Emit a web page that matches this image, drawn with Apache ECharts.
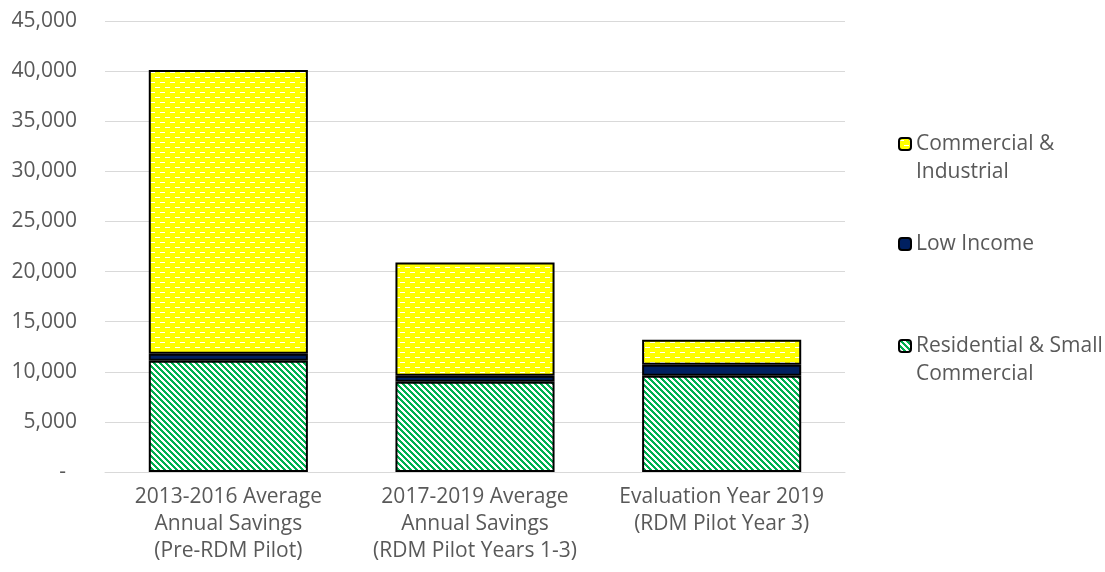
<!DOCTYPE html>
<html>
<head>
<meta charset="utf-8">
<script src="https://cdn.jsdelivr.net/npm/echarts@6/dist/echarts.min.js"></script>
<style>
  html, body { margin: 0; padding: 0; background: #ffffff; }
  #chart { width: 1105px; height: 572px; }
</style>
</head>
<body>
<div id="chart"></div>
<script>
// Savings by customer segment
const categories = [
  '2013-2016 Average\nAnnual Savings\n(Pre-RDM Pilot)',
  '2017-2019 Average\nAnnual Savings\n(RDM Pilot Years 1-3)',
  'Evaluation Year 2019\n(RDM Pilot Year 3)'
];
const residentialSmallCommercial = [11100, 9000, 9600];
const lowIncome = [700, 600, 1100];
const commercialIndustrial = [28300, 11300, 2500];
const yTicks = { min: 0, max: 45000, interval: 5000 };

const seriesNames = {
  res: 'Residential & Small\nCommercial',
  low: 'Low Income',
  ci: 'Commercial &\nIndustrial'
};

const FONT = '"Open Sans", "Liberation Sans", sans-serif';
const TEXT = '#595959';
const FS = 21;

// Yellow fill with staggered white dashes
function dashPattern() {
  const c = document.createElement('canvas');
  c.width = 10; c.height = 10;
  const g = c.getContext('2d');
  g.fillStyle = '#FFFF00';
  g.fillRect(0, 0, 10, 10);
  g.fillStyle = '#FFFFFF';
  g.fillRect(0, 2, 5, 1);
  g.fillRect(5, 7, 5, 1);
  return c;
}

// Wide downward diagonal green stripes on white
function diagPattern() {
  const n = 6;
  const c = document.createElement('canvas');
  c.width = n; c.height = n;
  const g = c.getContext('2d');
  g.fillStyle = '#FFFFFF';
  g.fillRect(0, 0, n, n);
  g.fillStyle = '#00B050';
  for (let y = 0; y < n; y++) {
    for (let x = 0; x < n; x++) {
      if (((x - y) % n + n) % n < 3) g.fillRect(x, y, 1, 1);
    }
  }
  return c;
}

const fills = {
  res: { image: diagPattern(), repeat: 'repeat' },
  low: '#002060',
  ci: { image: dashPattern(), repeat: 'repeat' }
};

const chart = echarts.init(document.getElementById('chart'), null, { renderer: 'canvas' });

// Two-line entries get an empty leading line so the swatch sits beside the first line
function legendFor(name, top) {
  return {
    data: [name],
    orient: 'vertical',
    left: 898,
    top: top,
    padding: 0,
    itemWidth: 12,
    itemHeight: 12,
    selectedMode: false,
    formatter: n => (n.indexOf('\n') >= 0 ? '\n' + n : n),
    textStyle: {
      fontFamily: FONT,
      fontSize: FS,
      color: TEXT,
      lineHeight: 28
    }
  };
}

function barSeries(key, values) {
  return {
    name: seriesNames[key],
    type: 'bar',
    stack: 'total',
    barWidth: '64.5%',
    data: values,
    itemStyle: { color: fills[key], borderColor: '#000000', borderWidth: 2 },
    emphasis: { disabled: true }
  };
}

chart.setOption({
  animation: false,
  backgroundColor: '#ffffff',
  grid: { left: 105, right: 260, top: 21, bottom: 100, containLabel: false },
  legend: [
    legendFor(seriesNames.ci, 102),
    legendFor(seriesNames.low, 230),
    legendFor(seriesNames.res, 304)
  ],
  xAxis: {
    type: 'category',
    data: categories,
    axisTick: { show: false },
    axisLine: { lineStyle: { color: '#d9d9d9', width: 1 } },
    axisLabel: {
      interval: 0,
      margin: 12,
      fontFamily: FONT,
      fontSize: FS,
      lineHeight: 27,
      color: TEXT
    }
  },
  yAxis: {
    type: 'value',
    min: yTicks.min,
    max: yTicks.max,
    interval: yTicks.interval,
    axisLine: { show: false },
    axisTick: { show: false },
    splitLine: { lineStyle: { color: '#d9d9d9', width: 1 } },
    axisLabel: {
      margin: 28,
      fontFamily: FONT,
      fontSize: FS,
      color: TEXT,
      formatter: v => v === 0 ? '-  ' : v.toLocaleString('en-US')
    }
  },
  series: [
    barSeries('res', residentialSmallCommercial),
    barSeries('low', lowIncome),
    barSeries('ci', commercialIndustrial)
  ]
});
</script>
</body>
</html>
